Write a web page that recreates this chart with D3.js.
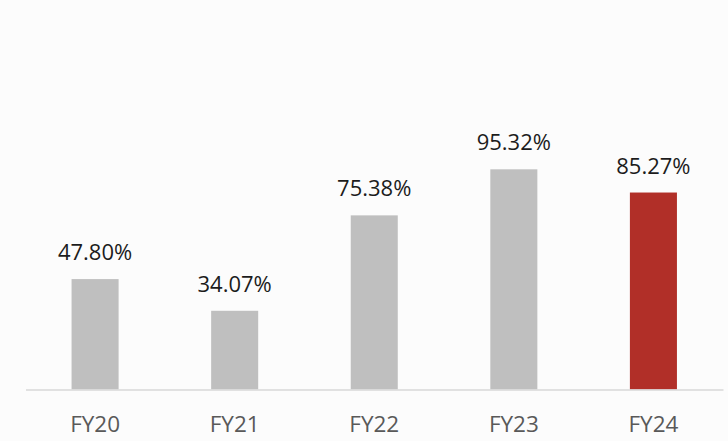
<!DOCTYPE html>
<html>
<head>
<meta charset="utf-8">
<script src="https://cdn.jsdelivr.net/npm/d3@7"></script>
<style>
  body { margin: 0; background: #fcfcfc; }
  svg { display: block; }
</style>
</head>
<body>
<script>
// chart data
var years = ["FY20", "FY21", "FY22", "FY23", "FY24"];
var ratios = [47.80, 34.07, 75.38, 95.32, 85.27];
var valueLabels = ["47.80%", "34.07%", "75.38%", "95.32%", "85.27%"];
var highlight = "FY24";

var w = 728;
var h = 441;
var baseY = 389.5;

var svg = d3.select("body")
            .append("svg")
            .attr("width", w)
            .attr("height", h);

var xScale = d3.scaleBand()
               .domain(years)
               .range([25.5, 723])
               .paddingInner(0.663)
               .paddingOuter(0.33);

var yScale = d3.scaleLinear()
               .domain([0, 100])
               .range([baseY, baseY - 231]);

/****Bars****/
svg.selectAll("rect.bar")
   .data(years)
   .enter()
   .append("rect")
   .attr("class", "bar")
   .attr("x", function(d){ return xScale(d); })
   .attr("y", function(d, i){ return yScale(ratios[i]); })
   .attr("width", xScale.bandwidth())
   .attr("height", function(d, i){ return yScale(0) - yScale(ratios[i]); })
   .attr("fill", function(d){ return d == highlight ? "#b12f28" : "#bfbfbf"; });

/****Value labels****/
svg.selectAll("text.val")
   .data(years)
   .enter()
   .append("text")
   .attr("class", "val")
   .attr("x", function(d){ return xScale(d) + xScale.bandwidth() / 2; })
   .attr("y", function(d, i){ return yScale(ratios[i]) - 19; })
   .attr("text-anchor", "middle")
   .attr("font-family", "'Open Sans', sans-serif")
   .attr("font-size", "22px")
   .attr("fill", "#1c1c1c")
   .text(function(d, i){ return valueLabels[i]; });

/****Axis****/
var xAxis = d3.axisBottom(xScale).tickSize(0).tickPadding(27);

var gx = svg.append("g")
            .attr("transform", "translate(0," + baseY + ")")
            .call(xAxis);
gx.select(".domain").attr("stroke", "#d9d9d9").attr("stroke-width", 1.5);
gx.selectAll("text")
  .attr("font-family", "'Open Sans', sans-serif")
  .attr("font-size", "22.5px")
  .attr("fill", "#595959");
</script>
</body>
</html>
